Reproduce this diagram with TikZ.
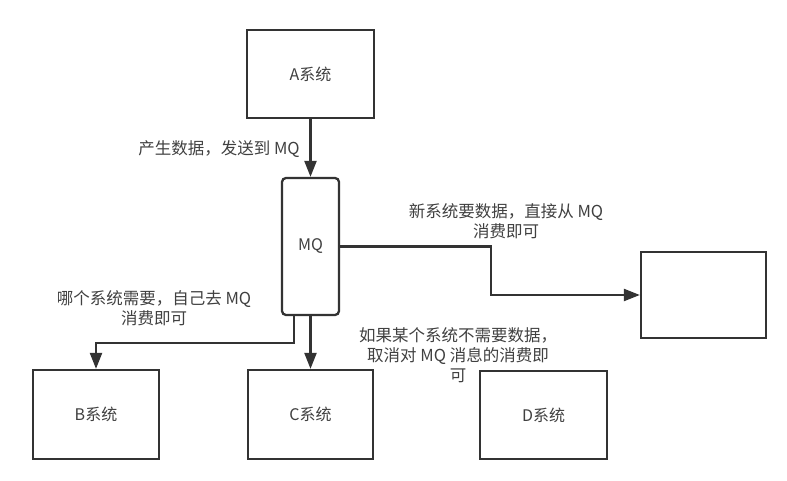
\documentclass[tikz,border=0pt]{standalone}
\usepackage{fontspec}
\setmainfont{Noto Sans CJK SC}
\usetikzlibrary{arrows.meta}
\definecolor{ln}{HTML}{333333}
\definecolor{tx}{HTML}{404040}
\begin{document}
\begin{tikzpicture}[x=1pt,y=-1pt,
  box/.style={draw=ln, line width=2.3pt, fill=white, inner sep=0pt, text=tx, font=\fontsize{16}{19}\selectfont},
  lbl/.style={text=tx, align=center, inner sep=0pt, font=\fontsize{16.5}{20}\selectfont},
  arr/.style={draw=ln, line width=2.2pt, -{Triangle[length=16pt,width=12pt]}}]
\useasboundingbox (0,0) rectangle (787,481);
\node[box, minimum width=127pt, minimum height=88pt] (A) at (310.5,74) {A系统};
\node[box, rounded corners=4pt, minimum width=57pt, minimum height=137pt] (MQ) at (310.5,246.5) {MQ};
\node[box, minimum width=125pt, minimum height=86pt] (E) at (703.5,295) {};
\node[box, minimum width=126pt, minimum height=89pt] (B) at (96,414.5) {B系统};
\node[box, minimum width=125pt, minimum height=89pt] (C) at (310.5,414.5) {C系统};
\node[box, minimum width=127pt, minimum height=88pt] (D) at (543.5,415) {D系统};
\draw[arr] (A.south) -- (MQ.north);
\draw[arr] (MQ.east) -- ++(151,0) |- (E.west);
\draw[arr] ([xshift=13pt]MQ.south west) -- ++(0,27) -| (B.north);
\draw[arr] (MQ.south) -- (C.north);
\node[lbl] (l1) at (219,149) {产生数据，发送到 MQ};
\node[lbl] (l2) at (506,221) {新系统要数据，直接从 MQ\\消费即可};
\node[lbl] (l3) at (154,308.5) {哪个系统需要，自己去 MQ\\消费即可};
\node[lbl] (l4) at (458,355) {如果某个系统不需要数据，\\取消对 MQ 消息的消费即\\可};
\end{tikzpicture}
\end{document}
